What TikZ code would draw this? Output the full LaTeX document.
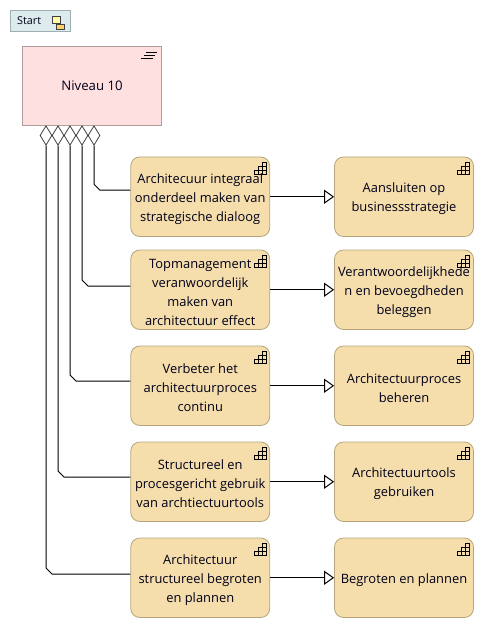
\documentclass[tikz,border=0pt]{standalone}
\usepackage{fontspec}
\setmainfont{Open Sans}
\usetikzlibrary{arrows.meta,shapes.geometric,calc}
\definecolor{tan}{HTML}{F5DEAB}
\definecolor{tanline}{HTML}{B5A67C}
\definecolor{pinkfill}{HTML}{FFE0E0}
\definecolor{pinkline}{HTML}{B09C9C}
\definecolor{startfill}{HTML}{DDEBEF}
\definecolor{startline}{HTML}{9DB0B0}
\definecolor{diagline}{HTML}{404040}
\tikzset{
  x=1pt,y=-1pt,
  every node/.style={font=\fontsize{12.9}{19}\selectfont,text=black!90!blue},
  capbox/.style={draw=tanline,fill=tan,rounded corners=9pt,minimum width=139pt,minimum height=79.5pt,inner sep=0pt,align=center,line width=.8pt},
  agg/.style={diamond,draw=diagline,fill=white,minimum width=12pt,minimum height=19.5pt,inner sep=0pt,line width=.8pt},
  wire/.style={draw=black,line width=1pt},
  realize/.style={wire,-{Triangle[open,length=10pt,width=14pt,fill=white]}},
  stair/.pic={
    \draw[black,line width=.9pt] (-12,11.5) rectangle (0,7.7) (-8,11.5)--(-8,3.9)--(0,3.9) (-4,11.5)--(-4,0)--(0,0)--(0,7.7);
  }
}
\newcommand{\capbox}[4]{\node[capbox] (#1) at (#2,#3) {\rule{0pt}{14.5pt}#4};
  \pic at ($(#1.north east)+(-4,6)$) {stair};}
\begin{document}
\begin{tikzpicture}
\useasboundingbox (0,0) rectangle (484,628);
% start
\node[draw=startline,fill=startfill,minimum width=60pt,minimum height=21pt,inner sep=0pt,line width=.8pt] (start) at (40.5,21) {};
\node[font=\fontsize{10.8}{12}\selectfont,anchor=west,inner sep=0pt] (startlabel) at (17,21) {Start};
\draw[black!75,fill=yellow!35,line width=.7pt] (52.5,16.5) rectangle (60.5,23);
\draw[black!75,line width=.7pt] (56.5,23)--(56.5,26.5);
\draw[black!75,fill=orange!60!yellow!60,line width=.7pt] (56.5,24.5) rectangle (64.5,29.5);
% niveau
\node[draw=pinkline,fill=pinkfill,minimum width=139pt,minimum height=79.5pt,inner sep=0pt,line width=.8pt,font=\fontsize{13.2}{19}\selectfont] (niv) at (92,85.75) {Niveau 10};
\draw[black,line width=1.3pt] (146,52.5)--(157,52.5) (143.5,55.2)--(155,55.2) (141,58.2)--(152.7,58.2);
% boxes
\capbox{a1}{200.25}{196.75}{Architecuur integraal\\onderdeel maken van\\strategische dialoog}
\capbox{b1}{404}{196.75}{Aansluiten op\\businessstrategie}
\capbox{a2}{200.25}{289.75}{Topmanagement\\veranwoordelijk\\maken van\\architectuur effect}
\capbox{b2}{404}{289.75}{Verantwoordelijkhede\\n en bevoegdheden\\beleggen}
\capbox{a3}{200.25}{385.75}{Verbeter het\\architectuurproces\\continu}
\capbox{b3}{404}{385.75}{Architectuurproces\\beheren}
\capbox{a4}{200.25}{481.75}{Structureel en\\procesgericht gebruik\\van archtiectuurtools}
\capbox{b4}{404}{481.75}{Architectuurtools\\gebruiken}
\capbox{a5}{200.25}{577.75}{Architectuur\\structureel begroten\\en plannen}
\capbox{b5}{404}{577.75}{Begroten en plannen}
% aggregation diamonds
\node[agg] (d5) at (46,135.5) {};
\node[agg] (d4) at (58,135.5) {};
\node[agg] (d3) at (70,135.5) {};
\node[agg] (d2) at (82,135.5) {};
\node[agg] (d1) at (94,135.5) {};
% whole-part connectors
\foreach \d/\t/\o in {d1/a1/-6.5,d2/a2/-3.75,d3/a3/-4.75,d4/a4/-4.75,d5/a5/-3.75}{
  \coordinate (e) at ($(\t.west)+(0,\o)$);
  \draw[wire] (\d.south) -- (\d.south |- {$(e)+(0,-6)$}) -- ($(\d.south |- e)+(6,0)$) -- (e);
}
% realisation arrows
\foreach \i in {1,...,5}{ \draw[realize] (a\i.east) -- (b\i.west); }
\end{tikzpicture}
\end{document}
